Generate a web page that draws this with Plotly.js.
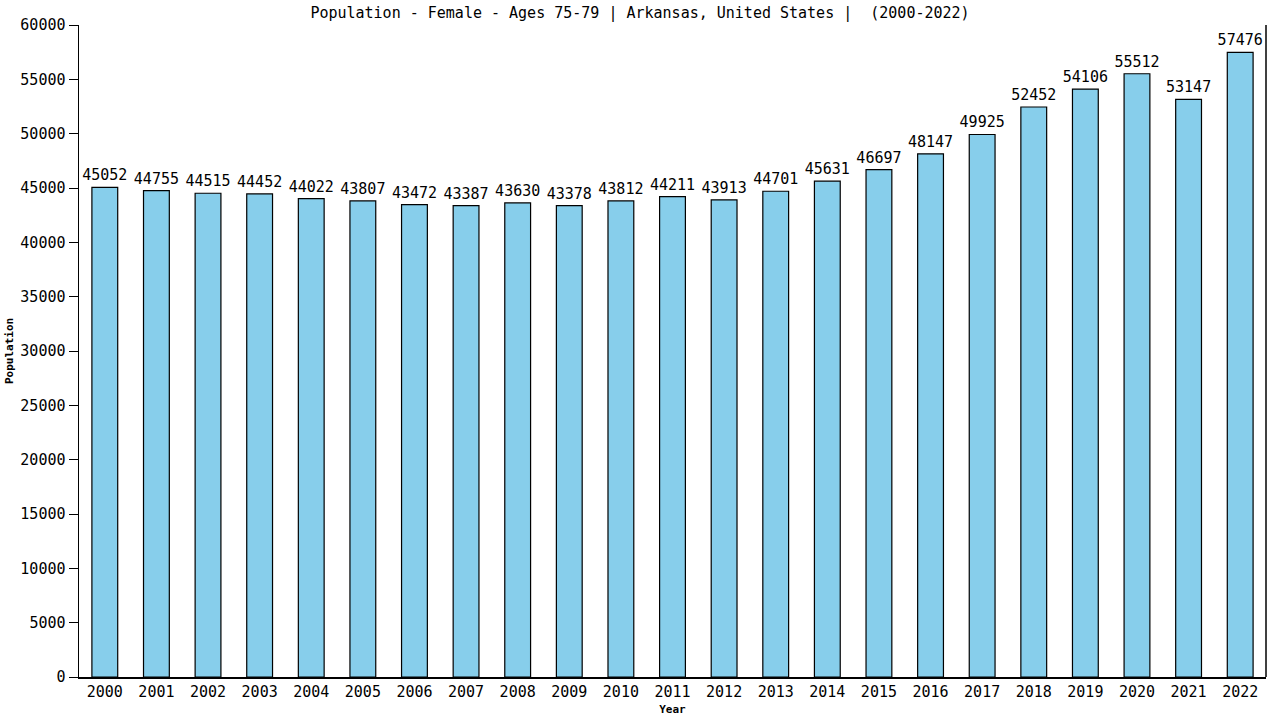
<!DOCTYPE html>
<html>
<head>
<meta charset="utf-8">
<script src="https://cdn.plot.ly/plotly-3.0.1.min.js"></script>
<style>
  html, body { margin: 0; padding: 0; background: #fff; }
  #chart { width: 1280px; height: 720px; }
</style>
</head>
<body>
<div id="chart"></div>
<script>
// population, female 75-79, Arkansas
const years = ['2000', '2001', '2002', '2003', '2004', '2005', '2006', '2007', '2008', '2009', '2010', '2011',
  '2012', '2013', '2014', '2015', '2016', '2017', '2018', '2019', '2020', '2021', '2022'];
const population = [45052, 44755, 44515, 44452, 44022, 43807, 43472, 43387, 43630, 43378, 43812, 44211,
  43913, 44701, 45631, 46697, 48147, 49925, 52452, 54106, 55512, 53147, 57476];
const yTicks = [0, 5000, 10000, 15000, 20000, 25000, 30000, 35000, 40000, 45000, 50000, 55000, 60000];

const mono = 'DejaVu Sans Mono, monospace';

const trace = {
  type: 'bar',
  x: years,
  y: population,
  width: 0.5,
  text: population.map(String),
  textposition: 'outside',
  constraintext: 'none',
  cliponaxis: false,
  textfont: { family: mono, size: 15, color: '#000' },
  marker: {
    color: '#87ceeb',
    line: { color: '#000', width: 1.2 }
  },
  hoverinfo: 'x+y'
};

const layout = {
  width: 1280,
  height: 720,
  margin: { l: 79, r: 14, t: 25, b: 43 },
  paper_bgcolor: '#fff',
  plot_bgcolor: '#fff',
  showlegend: false,
  bargap: 0.5,
  font: { family: mono, color: '#000' },
  title: {
    text: 'Population - Female - Ages 75-79 | Arkansas, United States |  (2000-2022)',
    font: { family: mono, size: 15, color: '#000' },
    x: 0.5,
    xanchor: 'center',
    y: 0.982,
    yanchor: 'middle'
  },
  xaxis: {
    type: 'category',
    range: [-0.5, 22.5],
    showline: true,
    linecolor: '#000',
    linewidth: 1.5,
    mirror: false,
    ticks: '',
    showgrid: false,
    tickfont: { family: mono, size: 15, color: '#000' },
    title: { text: '<b>Year</b>', font: { family: mono, size: 11, color: '#000' }, standoff: 6 }
  },
  yaxis: {
    range: [0, 60000],
    tickvals: yTicks,
    ticktext: yTicks.map(String),
    showline: true,
    linecolor: '#000',
    linewidth: 1.5,
    ticks: 'outside',
    ticklen: 9,
    tickcolor: '#000',
    showgrid: false,
    zeroline: false,
    tickfont: { family: mono, size: 15, color: '#000' },
    title: { text: '<b>Population</b>', font: { family: mono, size: 11, color: '#000' }, standoff: 4 }
  },
  shapes: [{
    type: 'line', xref: 'paper', yref: 'paper',
    x0: 1, x1: 1, y0: 0, y1: 1,
    line: { color: '#000', width: 1.5 }
  }]
};

Plotly.newPlot('chart', [trace], layout, { displayModeBar: false, staticPlot: true });
</script>
</body>
</html>
